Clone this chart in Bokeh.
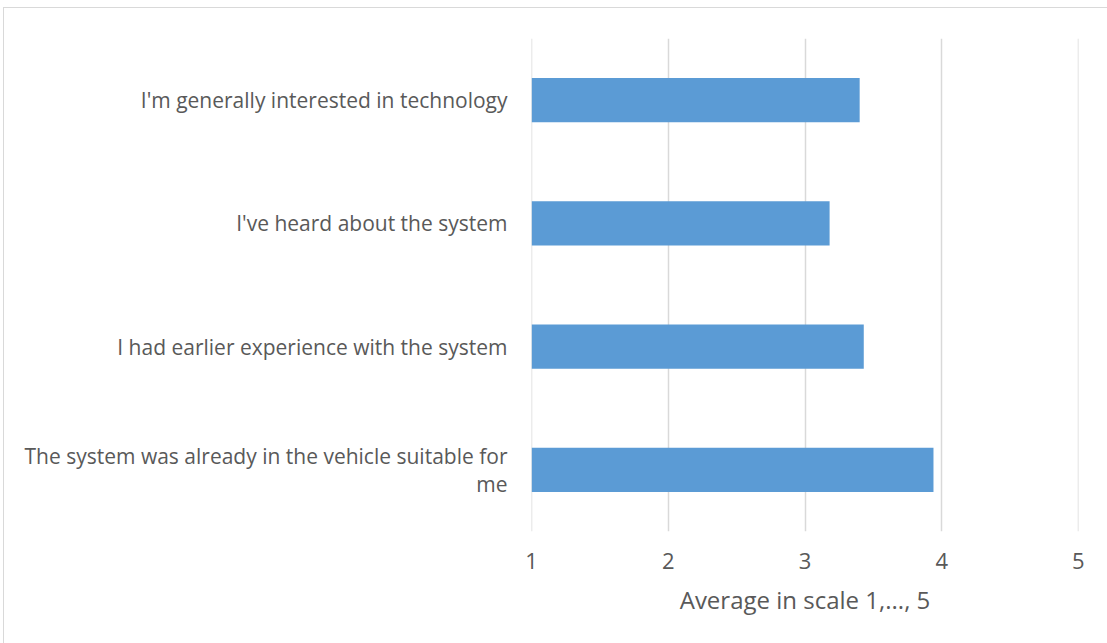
from bokeh.plotting import figure
from bokeh.models import Range1d, FixedTicker, FactorRange
from bokeh.embed import file_html
from bokeh.resources import INLINE

categories = [
    "I'm generally interested in technology",
    "I've heard about the system",
    "I had earlier experience with the system",
    "The system was already in the vehicle suitable for\nme",
]
values = [3.40, 3.18, 3.43, 3.94]
x_ticks = [1, 2, 3, 4, 5]
x_title = "Average in scale 1,..., 5"

FONT = "Open Sans"
TXT = "#595959"
GRID = "#d9d9d9"
BAR = "#5B9BD5"

factors = list(reversed(categories))
p = figure(
    width=1104, height=636,
    y_range=FactorRange(*factors, range_padding=0),
    x_range=Range1d(0.999, 5.001),
    output_backend="svg", toolbar_location=None,
    min_border_left=527, min_border_right=30,
    min_border_top=30, min_border_bottom=113,
)
p.styles = {"margin-left": "3px", "margin-top": "7px",
            "border-left": "1.5px solid #d9d9d9", "border-top": "1.5px solid #d9d9d9"}
p.hbar(y=categories, left=[1] * len(values), right=values, height=0.357,
       fill_color=BAR, line_color=None)

p.outline_line_color = None
p.ygrid.grid_line_color = None
p.xgrid.grid_line_color = GRID
p.xgrid.grid_line_width = 1.5
p.xaxis.ticker = FixedTicker(ticks=x_ticks)
for ax in (p.xaxis[0], p.yaxis[0]):
    ax.axis_line_color = None
    ax.major_tick_line_color = None
    ax.minor_tick_line_color = None
    ax.major_label_text_font = FONT
    ax.major_label_text_color = TXT
p.yaxis.major_label_text_font_size = "21px"
p.yaxis.major_label_text_line_height = 1.0
p.xaxis.major_label_text_font_size = "22px"
p.yaxis.major_label_standoff = 18
p.xaxis.major_label_standoff = 15
p.xaxis.axis_label = x_title
p.xaxis.axis_label_text_font = FONT
p.xaxis.axis_label_text_font_style = "normal"
p.xaxis.axis_label_text_color = TXT
p.xaxis.axis_label_text_font_size = "24px"
p.xaxis.axis_label_standoff = 11

open("out.html", "w").write(file_html(p, INLINE))
